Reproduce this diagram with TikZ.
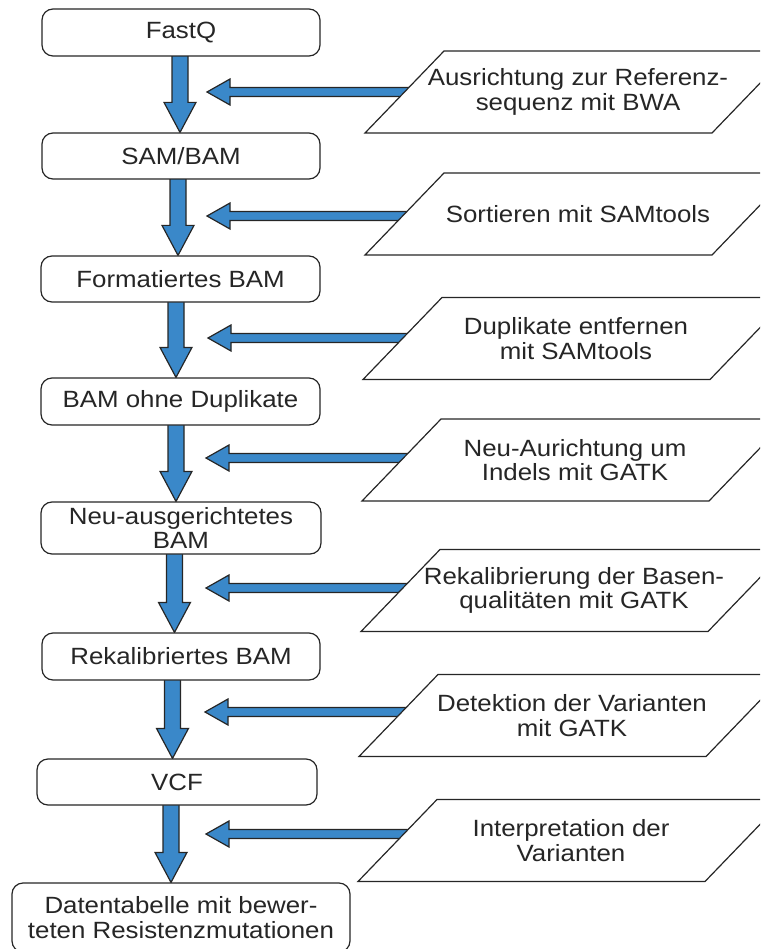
\documentclass[tikz,border=0pt]{standalone}
\usepackage{fontspec}
\setmainfont{Liberation Sans}[FakeStretch=1.1]
\usetikzlibrary{calc}
\pgfdeclarelayer{bg}
\pgfsetlayers{bg,main}
\definecolor{flowblue}{RGB}{58,136,201}
\definecolor{inkgray}{RGB}{38,38,38}
\tikzset{
  labelfont/.style={font=\fontsize{23.5}{24.5}\selectfont, text=inkgray},
  stage/.style={labelfont, draw=inkgray, line width=1.2pt, rounded corners=11pt,
    fill=white, align=center, inner sep=0pt},
  tasktext/.style={labelfont, align=center, inner sep=0pt},
  taskframe/.style={draw=inkgray, line width=1.2pt, fill=white},
  fatarrow/.style={draw=inkgray, line width=1.2pt, fill=flowblue, line join=miter},
}
% parallelogram task box: name, centre x, centre y, text
\newcommand\taskbox[4]{%
  \path[taskframe] (#2-213,#3+41) -- (#2-134,#3-41) -- (#2+213,#3-41)
    -- (#2+134,#3+41) -- cycle;
  \node[tasktext] (#1) at (#2,#3) {#4};}
% thick downward block arrow between two stages, shifted by #3
\newcommand\flowdown[3]{%
  \begin{pgfonlayer}{bg}
  \path[fatarrow] let \p1=([xshift=#3pt]#1.south), \p2=(#2.north) in
    (\x1-8pt,\y1+3pt) -- (\x1-8pt,\y2+30pt) -- (\x1-16pt,\y2+30pt) -- (\x1,\y2)
    -- (\x1+16pt,\y2+30pt) -- (\x1+8pt,\y2+30pt) -- (\x1+8pt,\y1+3pt) -- cycle;
  \end{pgfonlayer}}
% thick leftward block arrow from a task box to a tip coordinate
\newcommand\flowleft[2]{%
  \begin{pgfonlayer}{bg}
  \path[fatarrow] let \p1=(#1.center), \p2=(#2) in
    (\x1,\y2+4.5pt) -- (\x2+23pt,\y2+4.5pt) -- (\x2+23pt,\y2+13pt) -- (\x2,\y2)
    -- (\x2+23pt,\y2-13pt) -- (\x2+23pt,\y2-4.5pt) -- (\x1,\y2-4.5pt) -- cycle;
  \end{pgfonlayer}}

\begin{document}
\begin{tikzpicture}[x=1pt,y=-1pt]
\useasboundingbox (0,0) rectangle (760,949);
\clip (0,0) rectangle (760,949);

% pipeline stages
\node[stage, minimum width=278, minimum height=47] (fastq) at (181,32.5) {FastQ};
\node[stage, minimum width=278, minimum height=46] (sam) at (181,156) {SAM/BAM};
\node[stage, minimum width=279, minimum height=46] (fbam) at (180.5,279) {Formatiertes BAM};
\node[stage, minimum width=279, minimum height=47] (nodup) at (180.5,401.5) {BAM ohne Duplikate};
\node[stage, minimum width=280, minimum height=52] (realn) at (181,528) {Neu-ausgerichtetes\\BAM};
\node[stage, minimum width=278, minimum height=47] (recal) at (181,656.5) {Rekalibriertes BAM};
\node[stage, minimum width=280, minimum height=46] (vcf) at (177,782) {VCF};
\node[stage, minimum width=338, minimum height=69] (table) at (181,917.5)
  {Datentabelle mit bewer-\\teten Resistenzmutationen};

% processing steps
\taskbox{bwa}{578}{92}{Ausrichtung zur Referenz-\\sequenz mit BWA}
\taskbox{sort}{578}{214}{Sortieren mit SAMtools}
\taskbox{dedup}{576}{338.5}{Duplikate entfernen\\mit SAMtools}
\taskbox{indel}{575}{460}{Neu-Aurichtung um\\Indels mit GATK}
\taskbox{bqsr}{574}{590.5}{Rekalibrierung der Basen-\\qualitäten mit GATK}
\taskbox{call}{572}{715.5}{Detektion der Varianten\\mit GATK}
\taskbox{interp}{571}{840.5}{Interpretation der\\Varianten}

% tips of the side arrows
\coordinate (t1) at (207,92);
\coordinate (t2) at (207,216);
\coordinate (t3) at (208,338);
\coordinate (t4) at (206,458);
\coordinate (t5) at (206,588);
\coordinate (t6) at (205,712);
\coordinate (t7) at (206,834);

% main flow
\flowdown{fastq}{sam}{-1}
\flowdown{sam}{fbam}{-3}
\flowdown{fbam}{nodup}{-4.5}
\flowdown{nodup}{realn}{-4.5}
\flowdown{realn}{recal}{-6.5}
\flowdown{recal}{vcf}{-8.5}
\flowdown{vcf}{table}{-6}

% side inputs
\flowleft{bwa}{t1}
\flowleft{sort}{t2}
\flowleft{dedup}{t3}
\flowleft{indel}{t4}
\flowleft{bqsr}{t5}
\flowleft{call}{t6}
\flowleft{interp}{t7}
\end{tikzpicture}
\end{document}
